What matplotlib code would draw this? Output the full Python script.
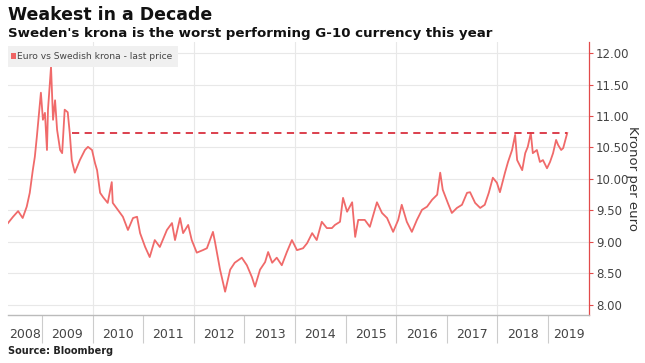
import numpy as np
import matplotlib.pyplot as plt
from matplotlib.ticker import FixedLocator, FormatStrFormatter

# EUR/SEK (decimal year, kronor per euro)
t = [2008.33, 2008.43, 2008.53, 2008.62, 2008.70, 2008.76, 2008.82, 2008.86, 2008.90, 2008.98,
     2009.02, 2009.06, 2009.10, 2009.12, 2009.18, 2009.22, 2009.26, 2009.30, 2009.36, 2009.40,
     2009.45, 2009.51, 2009.55, 2009.59, 2009.65, 2009.75, 2009.85, 2009.91, 2009.99,
     2010.05, 2010.09, 2010.15, 2010.21, 2010.30, 2010.38, 2010.40, 2010.50, 2010.60, 2010.70,
     2010.80, 2010.88, 2010.94,
     2011.04, 2011.13, 2011.23, 2011.33, 2011.47, 2011.57, 2011.63, 2011.73, 2011.79, 2011.89, 2011.96,
     2012.06, 2012.18, 2012.26, 2012.38, 2012.42, 2012.52, 2012.62, 2012.72, 2012.81, 2012.95,
     2013.05, 2013.15, 2013.21, 2013.31, 2013.41, 2013.47, 2013.55, 2013.64, 2013.74, 2013.84, 2013.94,
     2014.04, 2014.16, 2014.24, 2014.34, 2014.43, 2014.53, 2014.63, 2014.73, 2014.79, 2014.89, 2014.95,
     2015.03, 2015.13, 2015.19, 2015.25, 2015.38, 2015.48, 2015.62, 2015.72, 2015.82, 2015.94,
     2016.04, 2016.11, 2016.21, 2016.31, 2016.41, 2016.51, 2016.61, 2016.71, 2016.81, 2016.87, 2016.92,
     2017.02, 2017.10, 2017.20, 2017.30, 2017.40, 2017.46, 2017.56, 2017.66, 2017.75, 2017.83, 2017.91, 2017.99,
     2018.05, 2018.15, 2018.21, 2018.29, 2018.35, 2018.39, 2018.49, 2018.55, 2018.60, 2018.66, 2018.70,
     2018.78, 2018.84, 2018.90, 2018.98,
     2019.04, 2019.10, 2019.16, 2019.20, 2019.26, 2019.30, 2019.38]
eursek = [9.30, 9.40, 9.49, 9.38, 9.56, 9.78, 10.14, 10.35, 10.67, 11.37,
          10.94, 11.05, 10.46, 11.10, 11.78, 10.94, 11.25, 10.78, 10.46, 10.41,
          11.10, 11.06, 10.73, 10.30, 10.10, 10.30, 10.46, 10.51, 10.46,
          10.25, 10.14, 9.78, 9.71, 9.62, 9.95, 9.62, 9.51, 9.40, 9.19,
          9.38, 9.40, 9.14,
          8.92, 8.76, 9.03, 8.92, 9.19, 9.30, 9.03, 9.38, 9.14, 9.27, 9.03,
          8.83, 8.87, 8.90, 9.16, 9.00, 8.56, 8.21, 8.56, 8.67, 8.75,
          8.63, 8.44, 8.29, 8.56, 8.68, 8.84, 8.67, 8.75, 8.63, 8.84, 9.03,
          8.87, 8.90, 8.98, 9.14, 9.03, 9.32, 9.22, 9.22, 9.27, 9.32, 9.70,
          9.48, 9.63, 9.08, 9.35, 9.35, 9.24, 9.63, 9.46, 9.38, 9.16,
          9.35, 9.59, 9.32, 9.16, 9.35, 9.51, 9.56, 9.67, 9.75, 10.10, 9.83,
          9.62, 9.46, 9.54, 9.59, 9.78, 9.79, 9.62, 9.54, 9.59, 9.78, 10.02, 9.94,
          9.79, 10.10, 10.27, 10.46, 10.70, 10.30, 10.14, 10.41, 10.51, 10.73, 10.41,
          10.46, 10.27, 10.30, 10.17,
          10.27, 10.41, 10.62, 10.54, 10.46, 10.49, 10.73]

last_level = 10.73
level_from = 2009.60

years = list(range(2008, 2020))
y_ticks = [8.0, 8.5, 9.0, 9.5, 10.0, 10.5, 11.0, 11.5, 12.0]

x_min, x_max = 2008.33, 2019.81

fig = plt.figure(figsize=(6.45, 3.63), dpi=100)
ax = fig.add_axes([8 / 645, 48 / 363, 581 / 645, 273 / 363])

ax.plot(t, eursek, color="#f06a6a", lw=1.3, solid_joinstyle="round", zorder=3)
ax.hlines(last_level, level_from, t[-1], colors="#d9303f", linestyles=(0, (4, 3)), lw=1.3, zorder=4)

ax.set_xlim(x_min, x_max)
ax.set_ylim(7.84, 12.175)

# gridlines
ax.yaxis.set_major_locator(FixedLocator(y_ticks))
ax.yaxis.set_major_formatter(FormatStrFormatter("%.2f"))
ax.grid(axis="y", color="#e8e8e8", lw=0.8)
for yr in range(2010, 2019, 2):
    ax.axvline(yr, color="#e8e8e8", lw=0.8, zorder=0)
ax.set_axisbelow(True)

# y axis on the right, red
ax.yaxis.tick_right()
ax.tick_params(axis="y", colors="#e24a4a", length=3, width=0.8, labelsize=8.5, labelcolor="#444444", pad=2)
fig.text(633 / 645, 1 - 178 / 363, "Kronor per euro", rotation=270, fontsize=9.5, color="#333333",
         ha="center", va="center")

# x axis: year separators as minor ticks, labels centred in each year
centres = [(x_min + 2009) / 2] + [y + 0.5 for y in years[1:-1]] + [(2019 + x_max) / 2]
ax.xaxis.set_major_locator(FixedLocator(centres))
ax.set_xticklabels([str(y) for y in years])
ax.xaxis.set_minor_locator(FixedLocator(years[1:]))
ax.tick_params(axis="x", which="major", length=0, labelsize=9, labelcolor="#444444", pad=9)
ax.tick_params(axis="x", which="minor", length=20, width=0.8, color="#cccccc", direction="out")

for s in ["top", "left"]:
    ax.spines[s].set_visible(False)
ax.spines["right"].set_color("#e24a4a")
ax.spines["right"].set_linewidth(0.9)
ax.spines["bottom"].set_color("#bbbbbb")
ax.spines["bottom"].set_linewidth(1.0)

# legend box
ax.add_patch(plt.Rectangle((0, 0.91), 0.293, 0.075, transform=ax.transAxes, fc="#f0f0f0", ec="none", zorder=5))
ax.add_patch(plt.Rectangle((0.006, 0.937), 0.007, 0.022, transform=ax.transAxes, fc="#ef6464", ec="none", zorder=6))
ax.text(0.016, 0.948, "Euro vs Swedish krona - last price", transform=ax.transAxes,
        fontsize=6.6, color="#444444", va="center", zorder=6)

fig.text(8 / 645, 1 - 15 / 363, "Weakest in a Decade", fontsize=12.5, fontweight="bold", va="center", color="#111111")
fig.text(8 / 645, 1 - 33 / 363, "Sweden's krona is the worst performing G-10 currency this year",
         fontsize=9.6, fontweight="bold", va="center", color="#111111")
fig.text(8 / 645, 1 - 351 / 363, "Source: Bloomberg", fontsize=7, fontweight="bold", va="center", color="#222222")

plt.savefig("out.png", dpi=100)
